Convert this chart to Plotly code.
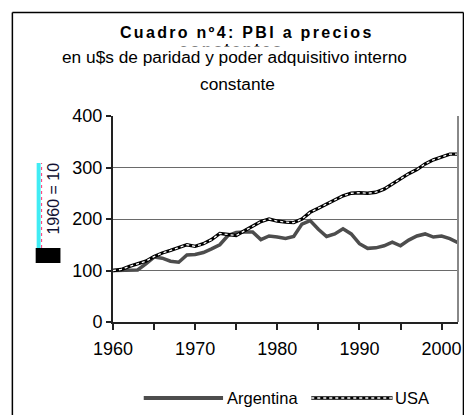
import plotly.graph_objects as go

# ---- data ----
years = list(range(1960, 2003))
argentina = [100, 100, 101, 101, 113, 126, 124, 118, 116, 130,
             131, 135, 142, 150, 168, 174, 175, 175, 160, 167,
             165, 162, 166, 190, 197, 180, 166, 171, 181, 171,
             152, 143, 144, 148, 155, 148, 159, 167, 171, 165,
             167, 162, 154]
usa = [100, 102, 108, 113, 118, 127, 134, 139, 145, 150,
       147, 152, 160, 172, 170, 168, 177, 186, 195, 200,
       196, 194, 193, 200, 213, 221, 229, 236, 245, 250,
       251, 250, 252, 258, 268, 278, 288, 296, 307, 315,
       321, 326, 326]
x_ticks = [1960, 1965, 1970, 1975, 1980, 1985, 1990, 1995, 2000]
x_tick_labels = ["1960", "", "1970", "", "1980", "", "1990", "", "2000"]
y_ticks = [0, 100, 200, 300, 400]
series_names = ["Argentina", "USA"]

# ---- layout geometry (window pixels; page body adds an 8px offset) ----
OFF = 8
W, H = 472 - OFF, 416 - OFF
L, R, T, B = 113 - OFF, 461 - OFF, 116 - OFF, 322 - OFF
FONT = "Liberation Sans, Arial, sans-serif"


def px(x):
    return (x - OFF - L) / (R - L)


def py(y):
    return (B - (y - OFF)) / (B - T)


def box(x0, x1, y0, y1, color):
    return dict(type="rect", xref="paper", yref="paper", x0=px(x0), x1=px(x1),
                y0=py(y1), y1=py(y0), line=dict(width=0), fillcolor=color)


def seg(x0, y0, x1, y1, color, width, dash="solid"):
    return dict(type="line", xref="paper", yref="paper", x0=px(x0), x1=px(x1),
                y0=py(y0), y1=py(y1), line=dict(color=color, width=width, dash=dash))


fig = go.Figure()
fig.add_trace(go.Scatter(x=years, y=argentina, mode="lines", name=series_names[0],
                         line=dict(color="#4d4d4d", width=3.5)))
fig.add_trace(go.Scatter(x=years, y=usa, mode="lines", name=series_names[1],
                         line=dict(color="black", width=3.4)))
fig.add_trace(go.Scatter(x=years, y=usa, mode="lines", name=series_names[1],
                         line=dict(color="white", width=1.3, dash="dot"),
                         showlegend=False))

shapes = [
    # outer chart frame
    seg(11.5, 12.5, 11.5, 415, "black", 1.5),
    seg(11.5, 12.5, 466.5, 12.5, "black", 1.5),
    seg(466.5, 12.5, 466.5, 415, "black", 1.5),
    # plot area right border
    dict(type="line", xref="paper", yref="paper", x0=1, x1=1, y0=0, y1=1,
         line=dict(color="#888888", width=2)),
    # axis title artifacts
    box(36, 40, 163, 248, "rgba(0,230,240,0.75)"),
    seg(41, 248, 41, 163, "rgba(255,0,80,0.8)", 1, "dot"),
    box(35, 60, 248, 263, "black"),
    # legend samples
    seg(144, 398, 224, 398, "#4d4d4d", 4),
    seg(313, 398, 395, 398, "black", 3.4),
    seg(313, 398, 395, 398, "white", 1.3, "dot"),
]

annotations = [
    # hidden second title line (mostly covered by subtitle)
    dict(text="<b><span style='letter-spacing:2px'>constantes</span></b>",
         xref="paper", yref="paper", x=px(232), y=py(49.8), showarrow=False,
         xanchor="center", yanchor="middle", font=dict(size=16, color="black", family=FONT)),
    dict(text="<b><span style='letter-spacing:2.3px'>Cuadro nº4: PBI a precios</span></b>",
         xref="paper", yref="paper", x=px(248), y=py(33), showarrow=False,
         xanchor="center", yanchor="middle", font=dict(size=16, color="black", family=FONT)),
    dict(text="en u$s de paridad y poder adquisitivo interno",
         xref="paper", yref="paper", x=px(236), y=py(57), showarrow=False,
         xanchor="center", yanchor="middle", bgcolor="white", borderpad=0,
         font=dict(size=17.3, color="black", family=FONT)),
    dict(text="constante",
         xref="paper", yref="paper", x=px(239), y=py(84), showarrow=False,
         xanchor="center", yanchor="middle",
         font=dict(size=17.3, color="black", family=FONT)),
    # clipped y-axis title
    dict(text="1960 = 10", textangle=-90,
         xref="paper", yref="paper", x=px(52), y=py(199), showarrow=False,
         xanchor="center", yanchor="middle",
         font=dict(size=16, color="#111133", family=FONT)),
    # legend labels
    dict(text=series_names[0], xref="paper", yref="paper", x=px(226), y=py(398),
         showarrow=False, xanchor="left", yanchor="middle",
         font=dict(size=16.5, color="black", family=FONT)),
    dict(text=series_names[1], xref="paper", yref="paper", x=px(395), y=py(398),
         showarrow=False, xanchor="left", yanchor="middle",
         font=dict(size=16.5, color="black", family=FONT)),
]

fig.update_layout(
    width=W, height=H,
    margin=dict(l=L, r=W - R, t=T, b=H - B, pad=0),
    paper_bgcolor="white", plot_bgcolor="white",
    showlegend=False,
    font=dict(family=FONT, size=18, color="black"),
    shapes=shapes, annotations=annotations,
    xaxis=dict(range=[1960, 2002], tickvals=x_ticks, ticktext=x_tick_labels,
               ticks="outside", ticklen=6, tickwidth=1.5, tickcolor="#222",
               showline=True, linecolor="#222", linewidth=2,
               showgrid=False, zeroline=False, ticklabelstandoff=3,
               tickfont=dict(size=18, color="black", family=FONT)),
    yaxis=dict(range=[0, 400], tickvals=y_ticks,
               ticks="outside", ticklen=5, tickwidth=1.5, tickcolor="#222",
               showline=True, linecolor="#222", linewidth=2,
               showgrid=True, gridcolor="#6a6a6a", gridwidth=1, zeroline=False,
               tickfont=dict(size=18, color="black", family=FONT)),
)

fig.write_html("out.html")
